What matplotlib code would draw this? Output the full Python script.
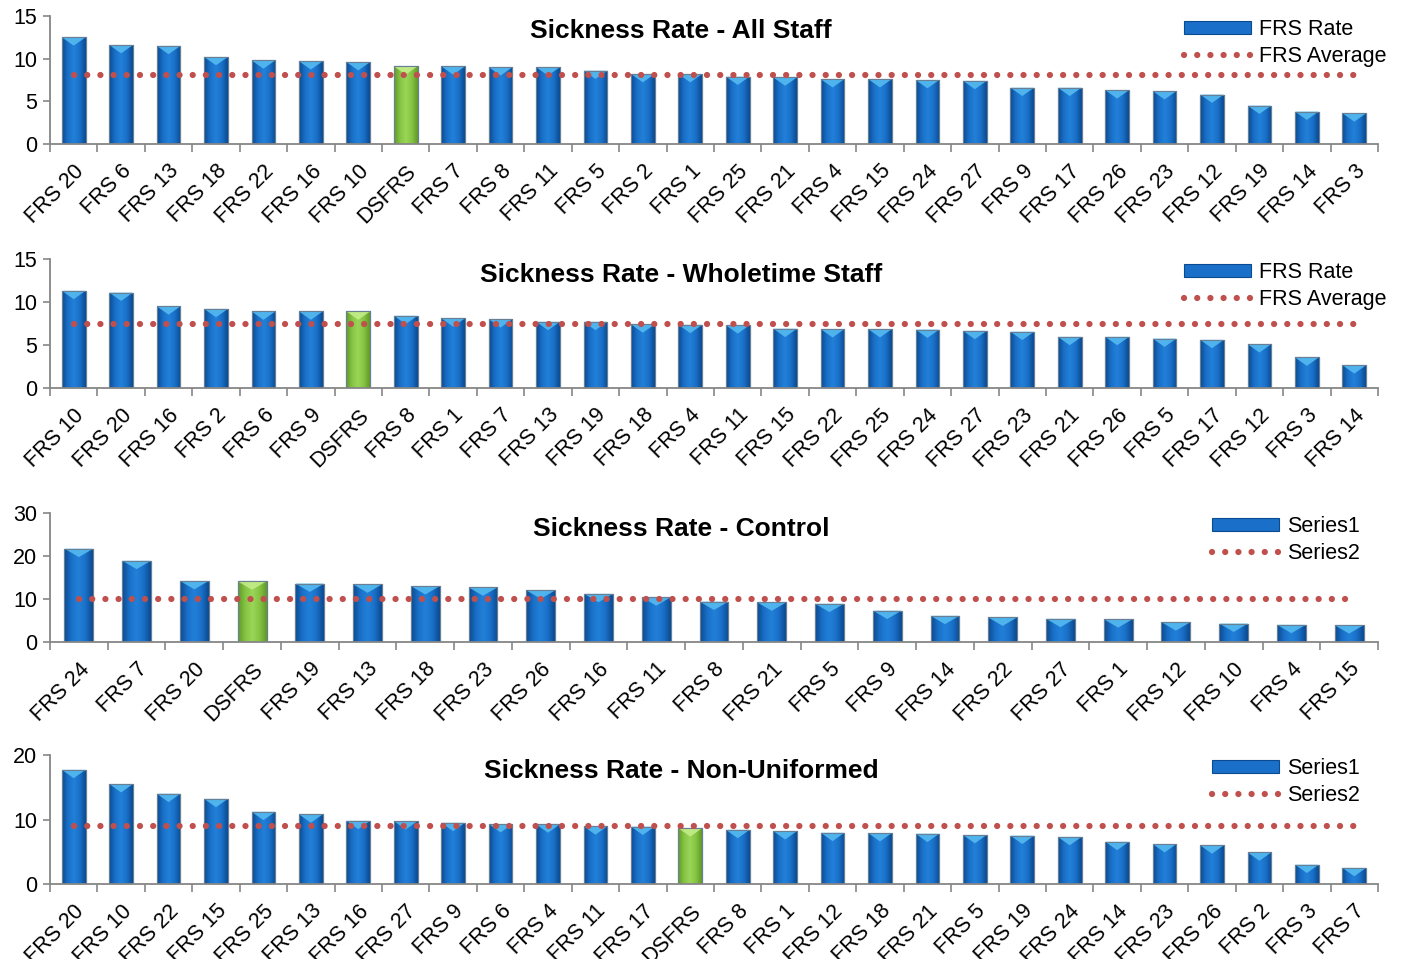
import numpy as np
import matplotlib.pyplot as plt
from matplotlib.colors import LinearSegmentedColormap
from matplotlib.patches import Polygon
from matplotlib.transforms import ScaledTranslation

plt.rcParams['font.family'] = ['Liberation Sans', 'DejaVu Sans']

# Sickness rates per station, sorted high to low
all_staff_labels = ['FRS 20', 'FRS 6', 'FRS 13', 'FRS 18', 'FRS 22', 'FRS 16', 'FRS 10', 'DSFRS',
                    'FRS 7', 'FRS 8', 'FRS 11', 'FRS 5', 'FRS 2', 'FRS 1', 'FRS 25', 'FRS 21',
                    'FRS 4', 'FRS 15', 'FRS 24', 'FRS 27', 'FRS 9', 'FRS 17', 'FRS 26', 'FRS 23',
                    'FRS 12', 'FRS 19', 'FRS 14', 'FRS 3']
all_staff_rate = [12.5, 11.6, 11.5, 10.2, 9.8, 9.7, 9.6, 9.1, 9.1, 9.0, 9.0, 8.6, 8.2, 8.2,
                  7.9, 7.8, 7.6, 7.6, 7.5, 7.4, 6.6, 6.6, 6.3, 6.2, 5.8, 4.5, 3.8, 3.6]
all_staff_avg = 8.1

wholetime_labels = ['FRS 10', 'FRS 20', 'FRS 16', 'FRS 2', 'FRS 6', 'FRS 9', 'DSFRS', 'FRS 8',
                    'FRS 1', 'FRS 7', 'FRS 13', 'FRS 19', 'FRS 18', 'FRS 4', 'FRS 11', 'FRS 15',
                    'FRS 22', 'FRS 25', 'FRS 24', 'FRS 27', 'FRS 23', 'FRS 21', 'FRS 26', 'FRS 5',
                    'FRS 17', 'FRS 12', 'FRS 3', 'FRS 14']
wholetime_rate = [11.3, 11.1, 9.5, 9.2, 8.9, 8.9, 8.9, 8.4, 8.1, 8.0, 7.7, 7.7, 7.4, 7.35,
                  7.3, 6.9, 6.85, 6.85, 6.8, 6.65, 6.55, 5.95, 5.95, 5.75, 5.6, 5.1, 3.55, 2.65]
wholetime_avg = 7.4

control_labels = ['FRS 24', 'FRS 7', 'FRS 20', 'DSFRS', 'FRS 19', 'FRS 13', 'FRS 18', 'FRS 23',
                  'FRS 26', 'FRS 16', 'FRS 11', 'FRS 8', 'FRS 21', 'FRS 5', 'FRS 9', 'FRS 14',
                  'FRS 22', 'FRS 27', 'FRS 1', 'FRS 12', 'FRS 10', 'FRS 4', 'FRS 15']
control_rate = [21.7, 18.9, 14.2, 14.1, 13.6, 13.4, 13.0, 12.7, 12.0, 11.2, 10.4, 9.4,
                9.2, 8.9, 7.3, 6.1, 5.7, 5.4, 5.3, 4.6, 4.3, 4.0, 3.9]
control_avg = 10.1

nonuni_labels = ['FRS 20', 'FRS 10', 'FRS 22', 'FRS 15', 'FRS 25', 'FRS 13', 'FRS 16', 'FRS 27',
                 'FRS 9', 'FRS 6', 'FRS 4', 'FRS 11', 'FRS 17', 'DSFRS', 'FRS 8', 'FRS 1',
                 'FRS 12', 'FRS 18', 'FRS 21', 'FRS 5', 'FRS 19', 'FRS 24', 'FRS 14', 'FRS 23',
                 'FRS 26', 'FRS 2', 'FRS 3', 'FRS 7']
nonuni_rate = [17.7, 15.5, 14.0, 13.2, 11.2, 10.8, 9.8, 9.75, 9.5, 9.3, 9.25, 8.95, 8.9, 8.65,
               8.4, 8.2, 7.95, 7.9, 7.8, 7.6, 7.5, 7.3, 6.55, 6.2, 6.0, 4.9, 3.0, 2.5]
nonuni_avg = 9.0

W, H = 1404, 959
fig = plt.figure(figsize=(W / 100, H / 100), dpi=100)

blue_cmap = LinearSegmentedColormap.from_list(
    'bar_blue', ['#0a4a90', '#1a70c8', '#2180d8', '#1a70c8', '#0a4a90'])
green_cmap = LinearSegmentedColormap.from_list(
    'bar_green', ['#5f9a28', '#86c443', '#9ad658', '#86c443', '#5f9a28'])
grad = np.linspace(0, 1, 64).reshape(1, -1)
grey = '#868686'


def draw_panel(rect, labels, rates, avg, ymax, ystep, title, title_y, legend_names, legend_x):
    ax = fig.add_axes(rect)
    n = len(labels)
    x = np.arange(n)
    bars = ax.bar(x, rates, width=0.5, color='#1a70c8', edgecolor='#0a4a90', linewidth=0.8,
                  zorder=2)
    tri_h = ymax * 0.065
    for bar, lab in zip(bars, labels):
        bx, bw, bh = bar.get_x(), bar.get_width(), bar.get_height()
        cmap = green_cmap if lab == 'DSFRS' else blue_cmap
        im = ax.imshow(grad, cmap=cmap, extent=[bx, bx + bw, 0, bh], aspect='auto',
                       interpolation='bicubic', zorder=2.1)
        im.set_clip_path(bar)
        top = '#c6ee8c' if lab == 'DSFRS' else '#58bef2'
        ax.add_patch(Polygon([(bx, bh), (bx + bw, bh), (bx + bw / 2, bh - tri_h)],
                             closed=True, facecolor=top, edgecolor='none', alpha=0.85,
                             zorder=2.2))
    # outline on top of the gradient fill
    ax.bar(x, rates, width=0.5, fill=False, edgecolor='#6a7f94', linewidth=0.8, zorder=2.3)

    avg_line, = ax.plot([x[0], x[-1]], [avg, avg], color='#c0504d',
                        linestyle=(0, (0.01, 2.1)), linewidth=4.5,
                        dash_capstyle='round', zorder=3)

    ax.set_xlim(-0.5, n - 0.5)
    ax.set_ylim(0, ymax)
    ax.set_xticks(x)
    ax.set_xticklabels(labels, rotation=45, ha='right', rotation_mode='anchor', fontsize=15.5)
    # nudge the slanted labels a little to the left
    shift = ScaledTranslation(-4 / 100, 0, fig.dpi_scale_trans)
    for t in ax.get_xticklabels():
        t.set_transform(t.get_transform() + shift)
    ax.set_xticks(np.arange(n + 1) - 0.5, minor=True)
    ax.tick_params(axis='x', which='major', length=0, pad=12)
    ax.tick_params(axis='x', which='minor', length=6, color=grey, width=1.2)
    ax.set_yticks(np.arange(0, ymax + 1, ystep))
    ax.tick_params(axis='y', length=5, color=grey, width=1.2, labelsize=15.5, pad=4)
    for side in ['top', 'right']:
        ax.spines[side].set_visible(False)
    for side in ['left', 'bottom']:
        ax.spines[side].set_color(grey)
        ax.spines[side].set_linewidth(1.3)

    fig.text(681 / W, 1 - title_y / H, title, ha='center', va='center',
             fontsize=19, fontweight='bold')
    top_px = (1 - rect[1] - rect[3]) * H
    ax.legend([bars, avg_line], legend_names,
              loc='upper left', bbox_to_anchor=(legend_x / W, 1 - (top_px + 3) / H),
              bbox_transform=fig.transFigure, frameon=False, fontsize=15.5,
              handlelength=3.1, handleheight=0.55, handletextpad=0.4,
              labelspacing=0.3, borderpad=0, borderaxespad=0)
    return ax


left, width = 50 / W, 1328 / W

draw_panel([left, 1 - 144 / H, width, 128 / H], all_staff_labels, all_staff_rate, all_staff_avg,
           15, 5, 'Sickness Rate - All Staff', 31, ['FRS Rate', 'FRS Average'], 1184)
draw_panel([left, 1 - 388 / H, width, 129 / H], wholetime_labels, wholetime_rate, wholetime_avg,
           15, 5, 'Sickness Rate - Wholetime Staff', 275, ['FRS Rate', 'FRS Average'], 1184)
draw_panel([left, 1 - 642 / H, width, 129 / H], control_labels, control_rate, control_avg,
           30, 10, 'Sickness Rate - Control', 529, ['Series1', 'Series2'], 1212)
draw_panel([left, 1 - 884 / H, width, 129 / H], nonuni_labels, nonuni_rate, nonuni_avg,
           20, 10, 'Sickness Rate - Non-Uniformed', 771, ['Series1', 'Series2'], 1212)

fig.savefig('out.png', dpi=100, facecolor='white')
